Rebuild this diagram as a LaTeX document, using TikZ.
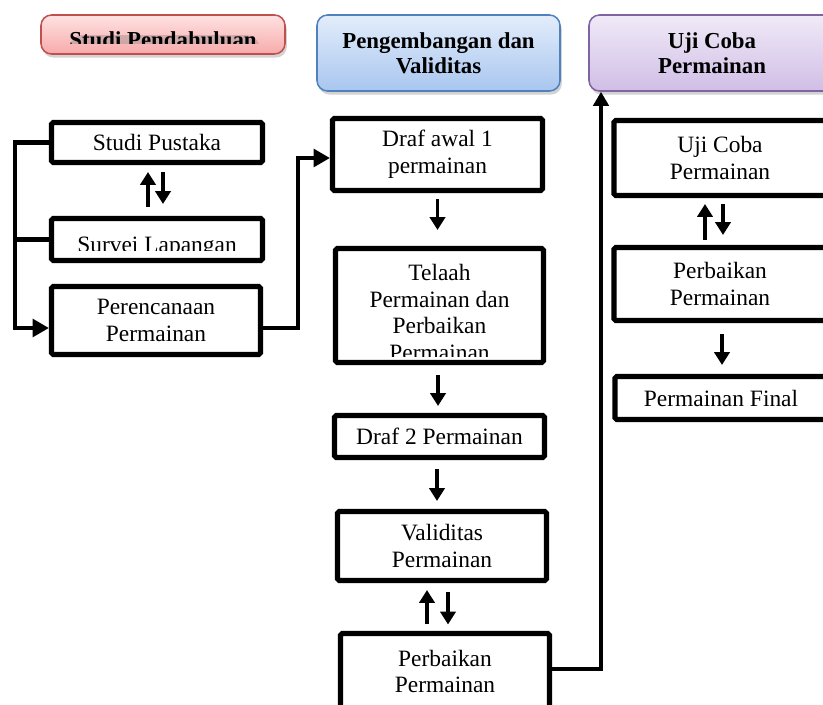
\documentclass[tikz,border=0pt]{standalone}
\usepackage{fontspec}
\setmainfont{Liberation Serif}
\usetikzlibrary{arrows.meta,shadows,calc}
\definecolor{redtop}{HTML}{FFE2E2}
\definecolor{redbot}{HTML}{F7AAAA}
\definecolor{redln}{HTML}{C0504D}
\definecolor{bluetop}{HTML}{E3EDFB}
\definecolor{bluebot}{HTML}{A9C6EF}
\definecolor{blueln}{HTML}{4F81BD}
\definecolor{purtop}{HTML}{F0EAF7}
\definecolor{purbot}{HTML}{D0BEE6}
\definecolor{purln}{HTML}{8064A2}
\newcommand\pxl[1]{#1*0.03cm}
\begin{document}
\begin{tikzpicture}[x=0.03cm,y=-0.03cm,
  bx/.style={draw=black, line width=4.3pt, rounded corners=1.5pt, align=center,
    inner sep=0pt, fill=white, font=\fontsize{20}{22.7}\selectfont},
  txt/.style={align=center, inner sep=0pt, font=\fontsize{20}{22.7}\selectfont},
  hd/.style={line width=1.3pt, rounded corners=9pt, align=center, inner sep=0pt,
    font=\bfseries\fontsize{19.5}{21.5}\selectfont,
    drop shadow={opacity=0.35, shadow xshift=1.5pt, shadow yshift=-3pt}},
  arr/.style={line width=3pt, -{Triangle[length=11pt,width=13pt]}},
  conn/.style={line width=3.9pt},
  bigtip/.style={-{Triangle[length=14pt,width=15pt]}}
]
\clip (0,0) rectangle (823,704);
% headers
\node[hd, draw=redln, top color=redtop, bottom color=redbot,
  minimum width=\pxl{244}, minimum height=\pxl{39}] (h1) at (163,34.5) {};
\begin{scope}
  \clip (40,14) rectangle (286,44);
  \node[hd, drop shadow={opacity=0}, anchor=base] (h1t) at (163,47.5) {Studi Pendahuluan};
\end{scope}
\node[hd, draw=blueln, top color=bluetop, bottom color=bluebot,
  minimum width=\pxl{243}, minimum height=\pxl{76}] (h2) at (438.5,53) {Pengembangan dan\\Validitas};
\node[hd, draw=purln, top color=purtop, bottom color=purbot,
  minimum width=\pxl{246}, minimum height=\pxl{76}] (h3) at (712,53) {Uji Coba\\Permainan};

% left column
\node[bx, minimum width=\pxl{211}, minimum height=\pxl{40}] (sp) at (157,142.5) {Studi Pustaka};
\node[bx, minimum width=\pxl{211}, minimum height=\pxl{42}] (sl) at (157,239.5) {};
\begin{scope}
  \clip (51,218) rectangle (263,250);
  \node[txt, anchor=base] (slt) at (157,252.5) {Survei Lapangan};
\end{scope}
\node[bx, minimum width=\pxl{209}, minimum height=\pxl{68}] (pp) at (156,320.5) {Perencanaan\\Permainan};

% middle column
\node[bx, minimum width=\pxl{210}, minimum height=\pxl{72}] (da) at (437.5,154.5) {Draf awal 1\\permainan};
\node[bx, minimum width=\pxl{208}, minimum height=\pxl{114}] (tp) at (439.5,305.5) {};
\begin{scope}
  \clip (335,248) rectangle (544,356);
  \node[txt, anchor=north] (tpt) at (439.5,264) {Telaah\\Permainan dan\\Perbaikan\\Permainan};
\end{scope}
\node[bx, minimum width=\pxl{210}, minimum height=\pxl{42}] (d2) at (439.5,436.5) {Draf 2 Permainan};
\node[bx, minimum width=\pxl{209}, minimum height=\pxl{69}] (vp) at (442,546) {Validitas\\Permainan};
\node[bx, minimum width=\pxl{209}, minimum height=\pxl{76}] (pb) at (445,671.5) {Perbaikan\\Permainan};

% right column
\node[bx, minimum width=\pxl{212}, minimum height=\pxl{75}] (uc) at (720,158) {Uji Coba\\Permainan};
\node[bx, minimum width=\pxl{212}, minimum height=\pxl{73}] (pb2) at (720,284) {Perbaikan\\Permainan};
\node[bx, minimum width=\pxl{212}, minimum height=\pxl{43}] (pf) at (721,398) {Permainan Final};

% left connectors
\draw[arr] ($(sl.north)+(-9,-9)$) -- ($(sp.south)+(-9,7)$);
\draw[arr] ($(sp.south)+(6,7)$) -- ($(sl.north)+(6,-12)$);
\coordinate (bx) at (15,0);
\coordinate (pin) at ($(pp.west)+(0,7.5)$);
\draw[conn, bigtip] (sp.west) -- (sp.west -| bx) -- (pin -| bx) -- (pin);
\draw[conn] (sl.west) -- (sl.west -| bx);
\coordinate (rx) at (298,0);
\coordinate (pout) at ($(pp.east)+(0,7.5)$);
\coordinate (din) at ($(da.west)+(0,3.5)$);
\draw[conn, bigtip] (pout) -- (pout -| rx) -- (din -| rx) -- (din);

% middle connectors
\draw[arr] ($(da.south)+(0,6)$) -- ($(tp.north)+(-2,-16)$);
\draw[arr] ($(tp.south)+(-1.5,10)$) -- ($(d2.north)+(-1.5,-7)$);
\draw[arr] ($(d2.south)+(-2.5,9)$) -- ($(vp.north)+(-5,-8)$);
\draw[arr] ($(pb.north)+(-18,-6.5)$) -- ($(vp.south)+(-15,7)$);
\draw[arr] ($(vp.south)+(6,9)$) -- ($(pb.north)+(3,-6.5)$);
\coordinate (ux) at (601,0);
\coordinate (pbo) at ($(pb.east)+(0,-2.5)$);
\draw[conn, -{Triangle[length=12pt,width=13pt]}] (pbo) -- (pbo -| ux) -- (h3.south -| ux);

% right connectors
\draw[arr] ($(pb2.north)+(-15,-5)$) -- ($(uc.south)+(-15,6)$);
\draw[arr] ($(uc.south)+(3,6)$) -- ($(pb2.north)+(3,-10)$);
\draw[arr] ($(pb2.south)+(2,11)$) -- ($(pf.north)+(1,-9)$);
\end{tikzpicture}
\end{document}
